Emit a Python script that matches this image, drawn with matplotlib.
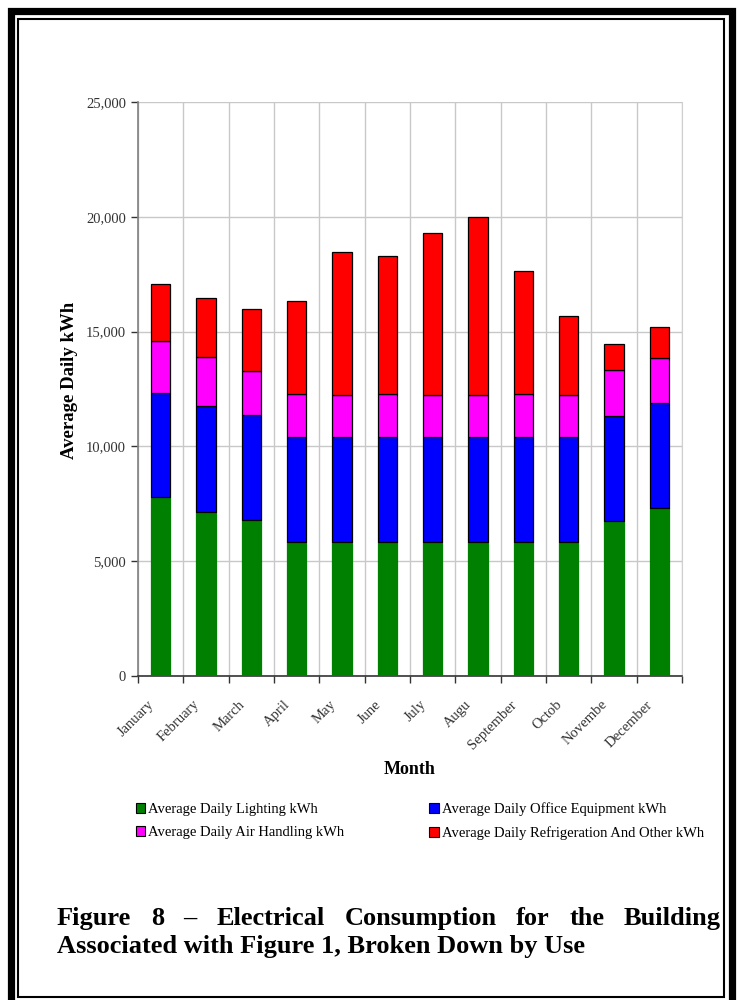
import numpy as np
import matplotlib
matplotlib.use("Agg")
import matplotlib.pyplot as plt
import matplotlib.transforms as mtransforms
from matplotlib.patches import Rectangle, Patch
from matplotlib.ticker import FuncFormatter, FixedLocator, NullFormatter

# data (kWh per day)
months = ["January", "February", "March", "April", "May", "June", "July",
          "Augu", "September", "Octob", "Novembe", "December"]
lighting = [7780, 7160, 6810, 5820, 5820, 5820, 5820, 5820, 5820, 5820, 6760, 7330]
office = [4560, 4590, 4560, 4580, 4580, 4580, 4580, 4580, 4580, 4580, 4560, 4570]
air = [2260, 2160, 1900, 1890, 1860, 1890, 1860, 1860, 1890, 1860, 2020, 1960]
refrig = [2470, 2540, 2730, 4030, 6190, 5990, 7020, 7740, 5360, 3430, 1100, 1330]

series = [
    ("Average Daily Lighting kWh", lighting, "#008000", "#008000"),
    ("Average Daily Office Equipment kWh", office, "#0000ff", "black"),
    ("Average Daily Air Handling kWh", air, "#ff00ff", "black"),
    ("Average Daily Refrigeration And Other kWh", refrig, "#ff0000", "black"),
]

plt.rcParams["font.family"] = ["Liberation Serif", "DejaVu Serif"]

fig = plt.figure(figsize=(7.38, 10), dpi=100)
ax = fig.add_axes([138 / 738, 1 - 676 / 1000, 544 / 738, 574 / 1000])

x = np.arange(len(months))
bottom = np.zeros(len(months))
for name, vals, color, edge in series:
    vals = np.array(vals, dtype=float)
    ax.bar(x, vals, width=0.42, bottom=bottom, color=color, edgecolor=edge,
           linewidth=0.9, zorder=3)
    bottom += vals

ax.set_xlim(-0.5, len(months) - 0.5)
ax.set_ylim(0, 25000)
ax.set_yticks(np.arange(0, 25001, 5000))
ax.yaxis.set_major_formatter(FuncFormatter(lambda v, p: "{:,.0f}".format(v)))

# month labels sit a little left of the bar centre, like the spreadsheet output
ax.set_xticks(x)
ax.xaxis.set_major_formatter(NullFormatter())
offset = mtransforms.ScaledTranslation(-13 / 100, -22 / 100, fig.dpi_scale_trans)
for i, m in enumerate(months):
    ax.text(i, 0, m, transform=ax.get_xaxis_transform() + offset,
            rotation=45, rotation_mode="anchor", ha="right", va="top",
            fontsize=10.5, color="#333333")
ax.xaxis.set_minor_locator(FixedLocator(np.arange(-0.5, len(months), 1.0)))
ax.tick_params(axis="x", which="major", length=0)
ax.tick_params(axis="x", which="minor", length=5, width=1.0, color="#333333")
ax.tick_params(axis="y", length=5, width=1.0, color="#333333",
               labelsize=10.5, labelcolor="#333333")

ax.grid(axis="y", color="#c8c8c8", linewidth=1.0, zorder=0)
ax.grid(axis="x", which="minor", color="#c8c8c8", linewidth=1.0, zorder=0)
ax.grid(axis="x", which="major", visible=False)

ax.spines["top"].set_visible(False)
ax.spines["right"].set_color("#d0d0d0")
ax.spines["left"].set_color("#808080")
ax.spines["bottom"].set_color("#333333")
ax.spines["left"].set_linewidth(1.2)
ax.spines["bottom"].set_linewidth(1.2)

ax.set_ylabel("Average Daily kWh", fontsize=13.5, fontweight="bold")
ax.yaxis.set_label_coords(-0.11, 0.515)
ax.set_xlabel("Month", fontsize=13, fontweight="bold")
ax.xaxis.set_label_coords(0.5, -0.148)

handles = [Patch(facecolor=c, edgecolor="black", linewidth=0.8) for _, _, c, _ in series]
labels = [s[0] for s in series]
# order so that row 1 = lighting, office; row 2 = air, refrig
order = [0, 2, 1, 3]
fig.legend([handles[i] for i in order], [labels[i] for i in order],
           loc="upper left", bbox_to_anchor=(136 / 738, 1 - 802 / 1000),
           ncol=2, frameon=False, fontsize=10.5, handlelength=0.65,
           handleheight=0.65, handletextpad=0.2, columnspacing=5.8,
           labelspacing=0.7, borderaxespad=0, borderpad=0)

# caption, justified on the first line
cap_font = dict(fontsize=19, fontweight="bold", color="black")
line1 = "Figure 8 – Electrical Consumption for the Building".split(" ")
x_left, x_right = 57 / 738, 721 / 738
y1 = 1 - 925 / 1000
fig.canvas.draw()
renderer = fig.canvas.get_renderer()
words = [fig.text(0, y1, w, ha="left", va="baseline", **cap_font) for w in line1]
widths = [t.get_window_extent(renderer).width / fig.bbox.width for t in words]
gap = (x_right - x_left - sum(widths)) / (len(words) - 1)
pos = x_left
for t, w in zip(words, widths):
    t.set_x(pos)
    pos += w + gap
fig.text(x_left, 1 - 953 / 1000, "Associated with Figure 1, Broken Down by Use",
         ha="left", va="baseline", **cap_font)

# page frame: thick outer border and thin inner border
fig.patches.append(Rectangle((10.5 / 738, 1 - 1004 / 1000), 721.5 / 738, 993.5 / 1000,
                             transform=fig.transFigure, fill=False,
                             edgecolor="black", linewidth=5.2))
fig.patches.append(Rectangle((18 / 738, 1 - 996.5 / 1000), 705.5 / 738, 977.5 / 1000,
                             transform=fig.transFigure, fill=False,
                             edgecolor="black", linewidth=1.5))

fig.savefig("out.png", dpi=100)
